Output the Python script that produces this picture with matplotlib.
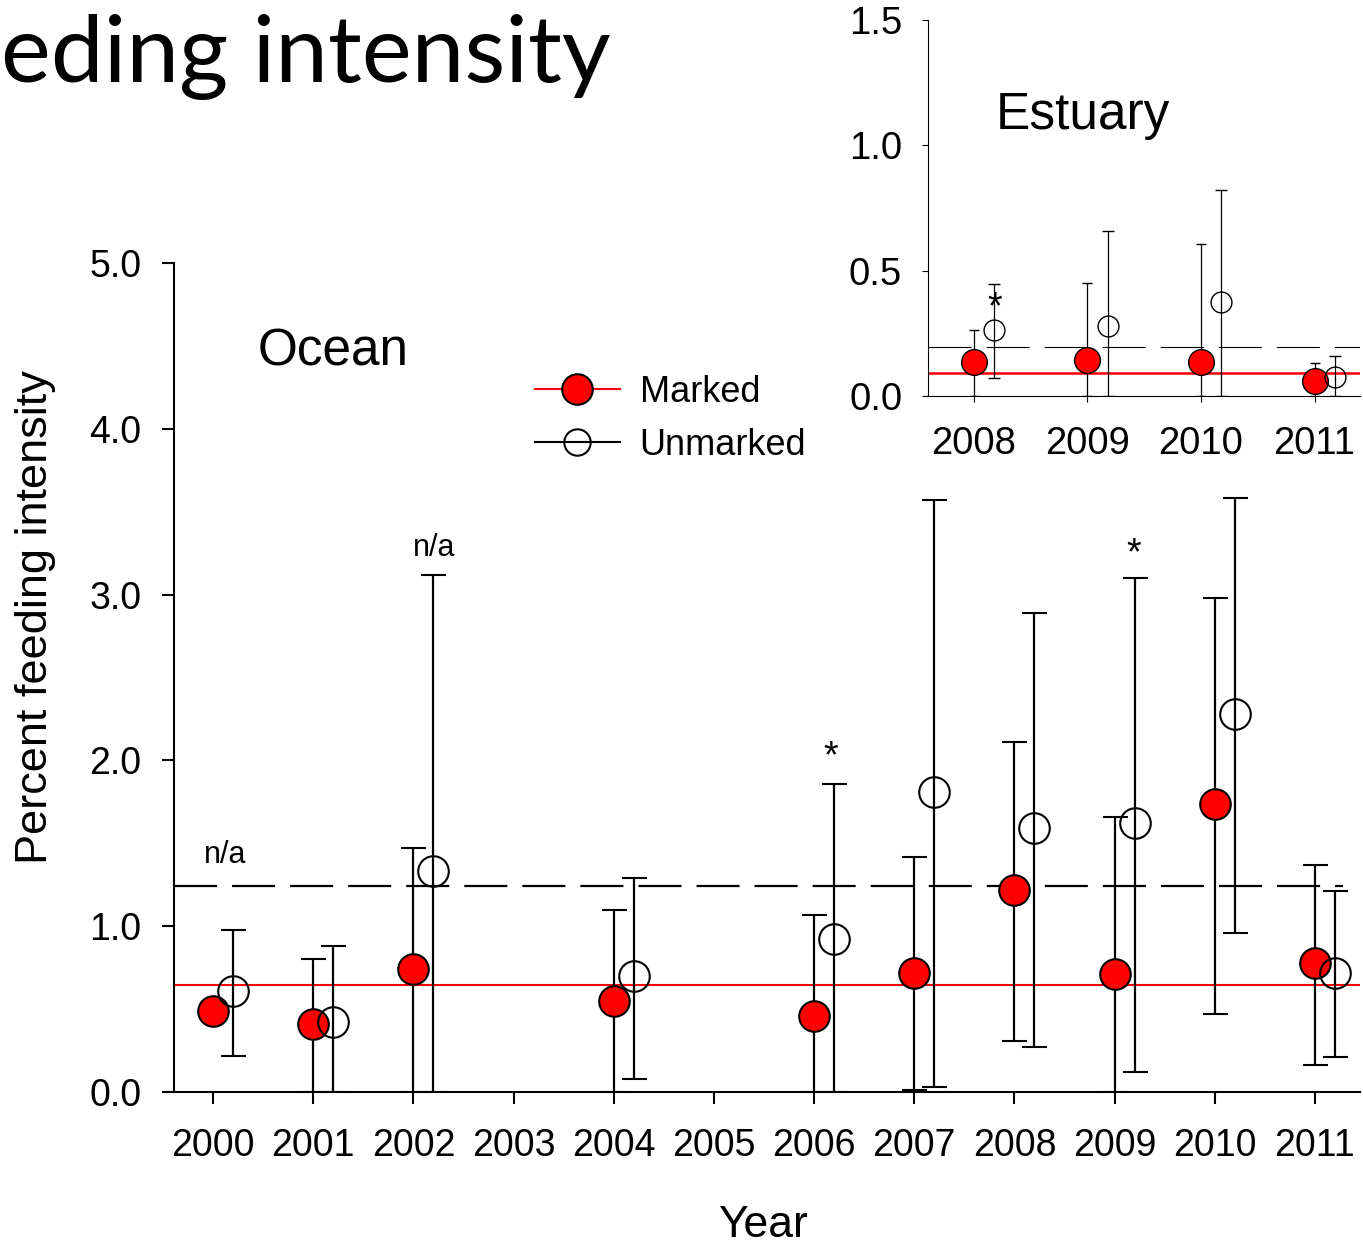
import numpy as np
import matplotlib
matplotlib.use("Agg")
import matplotlib.pyplot as plt
from matplotlib.lines import Line2D

# ocean: mean percent feeding intensity with 95% limits
ocean_years = np.array([2000, 2001, 2002, 2004, 2006, 2007, 2008, 2009, 2010, 2011])
ocean_marked = np.array([0.49, 0.41, 0.74, 0.55, 0.46, 0.72, 1.22, 0.71, 1.74, 0.78])
ocean_marked_lo = np.array([np.nan, 0.0, 0.0, 0.0, 0.0, 0.01, 0.31, 0.0, 0.47, 0.16])
ocean_marked_hi = np.array([np.nan, 0.80, 1.47, 1.10, 1.07, 1.42, 2.11, 1.66, 2.98, 1.37])
ocean_unmarked = np.array([0.61, 0.42, 1.33, 0.70, 0.92, 1.81, 1.59, 1.62, 2.28, 0.72])
ocean_unmarked_lo = np.array([0.22, 0.0, 0.0, 0.08, 0.0, 0.03, 0.27, 0.12, 0.96, 0.21])
ocean_unmarked_hi = np.array([0.98, 0.88, 3.12, 1.29, 1.86, 3.57, 2.89, 3.10, 3.58, 1.21])
ocean_marked_mean = 0.643
ocean_unmarked_mean = 1.245
ocean_na = [(2000.12, 1.38), (2002.21, 3.23)]
ocean_sig = [(2006.17, 1.96), (2009.19, 3.18)]

# estuary
est_years = np.array([2008, 2009, 2010, 2011])
est_marked = np.array([0.136, 0.144, 0.137, 0.060])
est_marked_lo = np.array([0.0, 0.0, 0.0, 0.0])
est_marked_hi = np.array([0.265, 0.45, 0.605, 0.13])
est_unmarked = np.array([0.265, 0.28, 0.376, 0.077])
est_unmarked_lo = np.array([0.07, 0.0, 0.0, 0.0])
est_unmarked_hi = np.array([0.445, 0.66, 0.82, 0.16])
est_marked_mean = 0.092
est_unmarked_mean = 0.196
est_sig = [(2008.18, 0.31)]

plt.rcParams['font.family'] = ['Liberation Sans', 'DejaVu Sans']
plt.rcParams['lines.scale_dashes'] = False

W, H = 1363, 1246
fig = plt.figure(figsize=(W / 100, H / 100), dpi=100)


def px(x, y):
    return x / W, 1 - y / H


def series(ax, x, y, lo, hi, ms, mfc, lw, cap, mew):
    yerr = np.vstack([y - lo, hi - y])
    ax.errorbar(x, y, yerr=yerr, fmt='o', ms=ms, mfc=mfc, mec='black', mew=mew,
                ecolor='black', elinewidth=lw, capsize=cap, capthick=lw, zorder=3)


def style(ax, lw, ticklen, fs, xpad, ypad):
    for s in ['top', 'right']:
        ax.spines[s].set_visible(False)
    for s in ['left', 'bottom']:
        ax.spines[s].set_linewidth(lw)
    ax.tick_params(direction='out', length=ticklen, width=lw, labelsize=fs)
    ax.tick_params(axis='x', pad=xpad)
    ax.tick_params(axis='y', pad=ypad)
    ax.yaxis.set_major_formatter(matplotlib.ticker.FormatStrFormatter('%.1f'))


# main panel
ax = fig.add_axes([174 / W, 1 - 1092 / H, 1186 / W, 829 / H])
ax.set_xlim(1999.61, 2011.45)
ax.set_ylim(0, 5)
ax.set_xticks(np.arange(2000, 2012))
ax.set_yticks(np.arange(0, 5.1, 1.0))
style(ax, 1.5, 8.6, 27, 17, 15)
ax.axhline(ocean_marked_mean, color='red', lw=1.5, zorder=1)
ax.axhline(ocean_unmarked_mean, xmax=0.986, color='black', lw=1.6,
           dashes=(31, 10.8), zorder=1)
series(ax, ocean_years, ocean_marked, ocean_marked_lo, ocean_marked_hi,
       22, 'red', 1.6, 9, 1.5)
series(ax, ocean_years + 0.2, ocean_unmarked, ocean_unmarked_lo, ocean_unmarked_hi,
       22, 'none', 1.6, 9, 1.5)
for x, y in ocean_na:
    ax.text(x, y, 'n/a', ha='center', va='baseline', fontsize=22)
for x, y in ocean_sig:
    ax.text(x, y, '*', ha='center', va='baseline', fontsize=27)

# estuary inset
axi = fig.add_axes([927.6 / W, 1 - 396 / H, 432.4 / W, 376 / H])
axi.patch.set_alpha(0)
axi.set_xlim(2007.594, 2011.40)
axi.set_ylim(0, 1.5)
axi.set_xticks(est_years)
axi.set_yticks([0, 0.5, 1.0, 1.5])
style(axi, 0.8, 4.3, 27.5, 17, 14)
axi.axhline(est_marked_mean, color='red', lw=1.8, zorder=1)
axi.axhline(est_unmarked_mean, color='black', lw=0.8, dashes=(31, 10.8), zorder=1)
series(axi, est_years, est_marked, est_marked_lo, est_marked_hi,
       18.5, 'red', 0.9, 3.8, 1.0)
series(axi, est_years + 0.18, est_unmarked, est_unmarked_lo, est_unmarked_hi,
       15, 'none', 0.9, 4.3, 1.0)
for x, y in est_sig:
    axi.text(x, y, '*', ha='center', va='baseline', fontsize=27)

# labels
fig.text(*px(1, 82), 'eding intensity', ha='left', va='baseline',
         fontsize=68, family=['Lato', 'DejaVu Sans'])
fig.text(*px(258, 366), 'Ocean', ha='left', va='baseline', fontsize=37)
fig.text(*px(996, 129), 'Estuary', ha='left', va='baseline', fontsize=37)
fig.text(*px(763, 1237), 'Year', ha='center', va='baseline', fontsize=32)
fig.text(*px(36, 617), 'Percent feeding intensity', rotation=90,
         ha='center', va='center', fontsize=32.5)

handles = [
    Line2D([], [], color='red', lw=1.5, marker='o', ms=22, mfc='red', mec='black', mew=1.5),
    Line2D([], [], color='black', lw=1.5, marker='o', ms=19, mfc='none', mec='black', mew=1.5),
]
fig.legend(handles, ['Marked', 'Unmarked'], loc='upper left',
           bbox_to_anchor=px(535, 375), frameon=False, fontsize=26,
           handlelength=2.35, handletextpad=0.55, labelspacing=0.5,
           borderpad=0, borderaxespad=0)

fig.savefig('out.png', dpi=100)
